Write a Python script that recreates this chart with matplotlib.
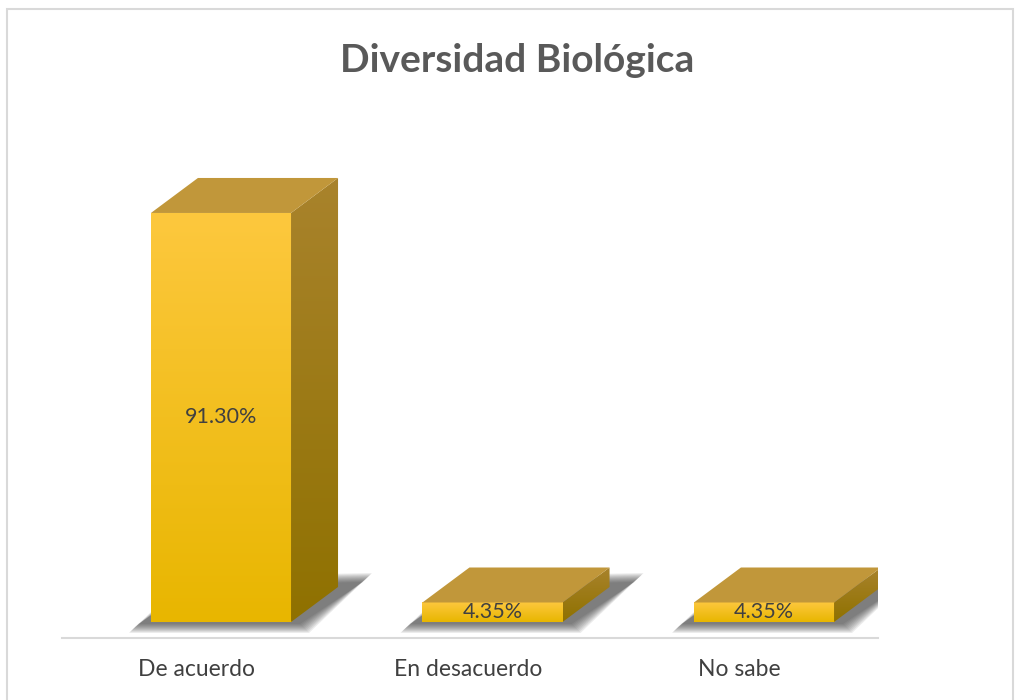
import numpy as np
import matplotlib.pyplot as plt
from matplotlib.patches import Polygon, Rectangle
from matplotlib.colors import LinearSegmentedColormap

categorias = ['De acuerdo', 'En desacuerdo', 'No sabe']
porcentajes = [91.30, 4.35, 4.35]
etiquetas = ['91.30%', '4.35%', '4.35%']

plt.rcParams['font.family'] = ['Lato', 'DejaVu Sans']

fig = plt.figure(figsize=(10.18, 7.0), dpi=100)
ax = fig.add_axes([0.0609, 0.0886, 0.8016, 0.6686])

x = np.arange(len(categorias))
ancho = 0.516
# escala aproximada: px por unidad en cada eje
px_x, px_y = 271.5, 4.48
prof_x, prof_y = 47 / px_x, 35 / px_y

frente = LinearSegmentedColormap.from_list('frente', ['#e8b600', '#fdc83e'])
lado = LinearSegmentedColormap.from_list('lado', ['#8f7100', '#a9832c'])
grad = np.linspace(0, 1, 256).reshape(-1, 1)

barras = ax.bar(x, porcentajes, width=ancho, color='none', zorder=3)

for xi, v, b in zip(x, porcentajes, barras):
    x0, x1 = xi - ancho / 2, xi + ancho / 2
    # sombra difusa
    base = np.array([[x0 - 12 / px_x, -1 / px_y],
                     [x1 + 8 / px_x, -1 / px_y],
                     [x1 + prof_x + 24 / px_x, prof_y + 4 / px_y],
                     [x0 + prof_x, prof_y]])
    cen = base.mean(axis=0)
    n = 10
    for k in range(n):
        g = 10 * (1 - k / n)
        sgn = np.sign(base - cen)
        pts = base + sgn * np.array([g / px_x, g / px_y])
        ax.add_patch(Polygon(pts, closed=True, facecolor='#303030', edgecolor='none',
                             alpha=0.09, zorder=2))
    # cara frontal con degradado
    im = ax.imshow(grad, extent=(x0, x1, 0, v), origin='lower', cmap=frente,
                   aspect='auto', zorder=3)
    im.set_clip_path(b)
    # cara lateral
    lat = Polygon([(x1, 0), (x1 + prof_x, prof_y), (x1 + prof_x, v + prof_y), (x1, v)],
                  closed=True, facecolor='none', edgecolor='none', zorder=3)
    ax.add_patch(lat)
    im2 = ax.imshow(grad, extent=(x1, x1 + prof_x, 0, v + prof_y), origin='lower',
                    cmap=lado, aspect='auto', zorder=3)
    im2.set_clip_path(lat)
    # cara superior
    ax.add_patch(Polygon([(x0, v), (x1, v), (x1 + prof_x, v + prof_y), (x0 + prof_x, v + prof_y)],
                         closed=True, facecolor='#c1973a', edgecolor='none', zorder=3))

for xi, v, t in zip(x, porcentajes, etiquetas):
    ax.text(xi, v / 2, t, ha='center', va='center', fontsize=15.5, color='#404040', zorder=5)

ax.set_xlim(-0.5856, 2.42)
ax.set_ylim(-3.57, 100.9)
ax.set_xticks(x - 0.09)
ax.set_xticklabels(categorias, fontsize=16.5, color='#404040')
ax.tick_params(axis='x', length=0, pad=15)
ax.set_yticks([])
for s in ['top', 'left', 'right']:
    ax.spines[s].set_visible(False)
ax.spines['bottom'].set_color('#d9d9d9')
ax.spines['bottom'].set_linewidth(1.5)

fig.text(0.508, 1 - 61 / 700, 'Diversidad Biológica', ha='center', va='center',
         fontsize=28, fontweight='bold', color='#595959')

fig.add_artist(Rectangle((7 / 1018, -0.05), 1006 / 1018, 1.05 - 9 / 700,
                         transform=fig.transFigure, fill=False,
                         edgecolor='#d9d9d9', linewidth=1.5))

fig.savefig('out.png', dpi=100)
